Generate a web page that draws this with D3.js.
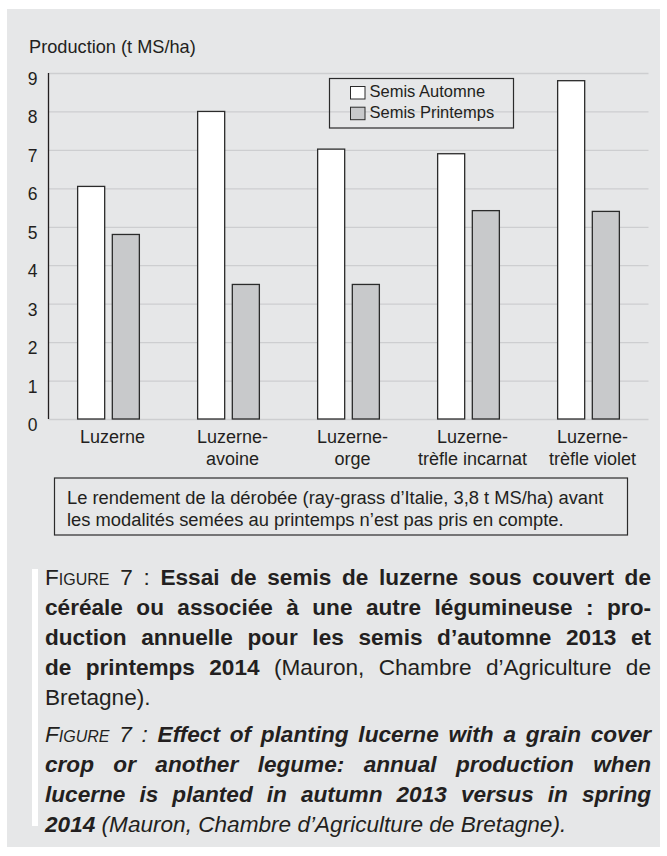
<!DOCTYPE html>
<html>
<head>
<meta charset="utf-8">
<script src="https://cdn.jsdelivr.net/npm/d3@7"></script>
<style>
  body { margin: 0; background: #fff; font-family: "Liberation Sans", Arial, Helvetica, sans-serif; color: #231f20; }
  #chart { position: absolute; left: 0; top: 0; }
  .caption { position: absolute; left: 45px; width: 606px; font-size: 22.6px; line-height: 30px; }
  .caption div { text-align: justify; text-align-last: justify; }
  .caption div.last { text-align: left; text-align-last: left; }
  .sc { font-variant: small-caps; }
</style>
</head>
<body>
<svg id="chart" width="667" height="856"></svg>
<script>
const categories = ["Luzerne", "Luzerne-\navoine", "Luzerne-\norge", "Luzerne-\ntrèfle incarnat", "Luzerne-\ntrèfle violet"];
const series = ["Semis Automne", "Semis Printemps"];
const autumn = [6.05, 8.0, 7.02, 6.9, 8.8];
const spring = [4.8, 3.5, 3.5, 5.42, 5.4];
const yTicks = [0, 1, 2, 3, 4, 5, 6, 7, 8, 9];
const yTitle = "Production (t MS/ha)";
const note = ["Le rendement de la dérobée (ray-grass d’Italie, 3,8 t MS/ha) avant",
              "les modalités semées au printemps n’est pas pris en compte."];

const colors = {"Semis Automne": "#ffffff", "Semis Printemps": "#c8c9cb"};

const svg = d3.select("#chart");
const plot = {left: 48.5, right: 648.5, top: 73, bottom: 419};

// grey panel behind everything
svg.append("rect")
    .attr("x", 7).attr("y", 9)
    .attr("width", 653).attr("height", 838)
    .attr("fill", "#e6e7e8");

const y = d3.scaleLinear().domain([0, 9]).range([plot.bottom, plot.top]);
const x0 = d3.scaleBand().domain(categories).range([plot.left, plot.right]);
const x1 = d3.scaleBand().domain(series).range([0, x0.bandwidth()])
    .paddingInner(0.22).paddingOuter(0.84);

// gridlines + tick labels (labels hang under their line)
const yAxis = svg.append("g")
    .attr("transform", `translate(${plot.left},0)`)
    .call(d3.axisLeft(y).tickValues(yTicks).tickSize(-(plot.right - plot.left)).tickFormat(d3.format("d")));
yAxis.select(".domain").remove();
yAxis.selectAll("line").attr("stroke", "#cdced0").attr("stroke-width", 1.3);
yAxis.selectAll("text")
    .attr("x", -11)
    .attr("dy", 11.5)
    .attr("font-family", "Liberation Sans, Arial, sans-serif")
    .attr("font-size", 17.5)
    .attr("fill", "#231f20");

svg.append("text")
    .attr("x", 29).attr("y", 53)
    .attr("font-size", 18.2)
    .attr("fill", "#231f20")
    .text(yTitle);

// bars
const groups = svg.append("g")
    .selectAll("g")
    .data(categories)
    .join("g")
    .attr("transform", d => `translate(${x0(d)},0)`);

groups.selectAll("rect")
    .data((d, i) => [{key: series[0], value: autumn[i]}, {key: series[1], value: spring[i]}])
    .join("rect")
    .attr("x", d => x1(d.key))
    .attr("y", d => y(d.value))
    .attr("width", x1.bandwidth())
    .attr("height", d => y(0) - y(d.value))
    .attr("fill", d => colors[d.key])
    .attr("stroke", "#2b2b2b")
    .attr("stroke-width", 1.3);

// y axis line
svg.append("line")
    .attr("x1", plot.left).attr("x2", plot.left)
    .attr("y1", plot.top).attr("y2", plot.bottom)
    .attr("stroke", "#231f20").attr("stroke-width", 1.3);

// category labels
svg.append("g")
    .selectAll("text")
    .data(categories)
    .join("text")
    .attr("text-anchor", "middle")
    .attr("font-size", 18)
    .attr("fill", "#231f20")
    .attr("transform", d => `translate(${x0(d) + x0.bandwidth() / 2 + 4},443)`)
    .selectAll("tspan")
    .data(d => d.split("\n"))
    .join("tspan")
    .attr("x", 0)
    .attr("y", (d, i) => i * 21.5)
    .text(d => d);

// legend
const legend = svg.append("g").attr("transform", "translate(329.5,78.5)");
legend.append("rect")
    .attr("width", 184).attr("height", 49.5)
    .attr("fill", "none").attr("stroke", "#2b2b2b").attr("stroke-width", 1.2);
const items = legend.selectAll("g.item")
    .data(series)
    .join("g")
    .attr("class", "item")
    .attr("transform", (d, i) => `translate(21,${8 + i * 20.7})`);
items.append("rect")
    .attr("width", 14.5).attr("height", 12.5)
    .attr("fill", d => colors[d])
    .attr("stroke", "#2b2b2b").attr("stroke-width", 1);
items.append("text")
    .attr("x", 19).attr("y", 10.5)
    .attr("font-size", 16.5)
    .attr("fill", "#231f20")
    .text(d => d);

// note box
const noteG = svg.append("g").attr("transform", "translate(54.5,478)");
noteG.append("rect")
    .attr("width", 573).attr("height", 57)
    .attr("fill", "none").attr("stroke", "#2b2b2b").attr("stroke-width", 1.2);
noteG.selectAll("text")
    .data(note)
    .join("text")
    .attr("x", 12.5)
    .attr("y", (d, i) => 25.5 + i * 22.5)
    .attr("font-size", 18.35)
    .attr("fill", "#231f20")
    .text(d => d);

// white marker bar next to the caption
svg.append("rect")
    .attr("x", 32).attr("y", 569)
    .attr("width", 6).attr("height", 257)
    .attr("fill", "#ffffff");

// captions (html so they can be justified line by line)
const capFr = d3.select("body").append("div")
    .attr("class", "caption")
    .style("top", "563px");
capFr.append("div").html('<span class="sc">Figure</span> 7 : <b>Essai de semis de luzerne sous couvert de</b>');
capFr.append("div").html('<b>céréale ou associée à une autre légumineuse : pro-</b>');
capFr.append("div").html('<b>duction annuelle pour les semis d’automne 2013 et</b>');
capFr.append("div").html('<b>de printemps 2014</b> (Mauron, Chambre d’Agriculture de');
capFr.append("div").attr("class", "last").html('Bretagne).');

const capEn = d3.select("body").append("div")
    .attr("class", "caption")
    .style("top", "720px")
    .style("font-style", "italic");
capEn.append("div").html('<span class="sc">Figure</span> 7 : <b>Effect of planting lucerne with a grain cover</b>');
capEn.append("div").html('<b>crop or another legume: annual production when</b>');
capEn.append("div").html('<b>lucerne is planted in autumn 2013 versus in spring</b>');
capEn.append("div").attr("class", "last").html('<b>2014</b> (Mauron, Chambre d’Agriculture de Bretagne).');
</script>
</body>
</html>
